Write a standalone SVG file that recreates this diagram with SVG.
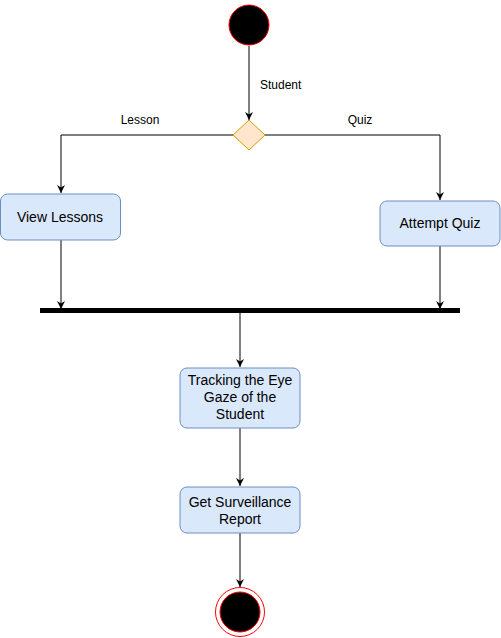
<svg xmlns="http://www.w3.org/2000/svg" width="501" height="638" viewBox="0 0 501 638">
<style>
.box{fill:#dae8fc;stroke:#6c8ebf;stroke-width:1}
.lbl{font-family:"Liberation Sans",Arial,sans-serif;font-size:14px;fill:#000;text-anchor:middle}
.elbl{font-family:"Liberation Sans",Arial,sans-serif;font-size:12px;fill:#000}
.edge{fill:none;stroke:#000;stroke-width:1}
</style>
<defs>
<marker id="arr" viewBox="0 0 10 10" refX="10" refY="5" markerWidth="8" markerHeight="8" markerUnits="userSpaceOnUse" orient="auto">
<path d="M0,0 L10,5 L0,10 L3,5 Z" fill="#000"/>
</marker>
</defs>
<g id="connectors">
<path class="edge" d="M249,46 L249,120" marker-end="url(#arr)"/>
<path class="edge" d="M233,135 L61,135 L61,193" marker-end="url(#arr)"/>
<path class="edge" d="M265,135 L440,135 L440,200" marker-end="url(#arr)"/>
<path class="edge" d="M61,240 L61,309" marker-end="url(#arr)"/>
<path class="edge" d="M440,246 L440,309" marker-end="url(#arr)"/>
<path class="edge" d="M240,313 L240,367" marker-end="url(#arr)"/>
<path class="edge" d="M240,428 L240,486" marker-end="url(#arr)"/>
<path class="edge" d="M240,533 L240,587" marker-end="url(#arr)"/>
<text class="elbl" x="260" y="89">Student</text>
<text class="elbl" x="140" y="124" text-anchor="middle">Lesson</text>
<text class="elbl" x="360" y="124" text-anchor="middle">Quiz</text>
</g>
<g id="start">
<circle cx="249" cy="25" r="20" fill="#000" stroke="#ff0000" stroke-width="1"/>
</g>
<g id="decision">
<polygon points="249,120 265,135 249,150 233,135" fill="#ffe6cc" stroke="#d79b00" stroke-width="1"/>
</g>
<g id="viewLessons">
<rect class="box" x="0.5" y="194" width="120" height="46" rx="7"/>
<text class="lbl" x="60" y="222">View Lessons</text>
</g>
<g id="attemptQuiz">
<rect class="box" x="380" y="201" width="120" height="45" rx="7"/>
<text class="lbl" x="440" y="228">Attempt Quiz</text>
</g>
<g id="forkBar">
<rect x="40" y="308" width="420" height="5" fill="#000"/>
</g>
<g id="tracking">
<rect class="box" x="180" y="368" width="120" height="60" rx="7"/>
<text class="lbl" x="240" y="385">Tracking the Eye</text>
<text class="lbl" x="240" y="402">Gaze of the</text>
<text class="lbl" x="240" y="419">Student</text>
</g>
<g id="report">
<rect class="box" x="180" y="487" width="120" height="46" rx="7"/>
<text class="lbl" x="240" y="507">Get Surveillance</text>
<text class="lbl" x="240" y="524">Report</text>
</g>
<g id="end">
<circle cx="240" cy="612" r="24.5" fill="#fff" stroke="#ff0000" stroke-width="1"/>
<circle cx="240" cy="612" r="20" fill="#000" stroke="#ff0000" stroke-width="1"/>
</g>
</svg>
